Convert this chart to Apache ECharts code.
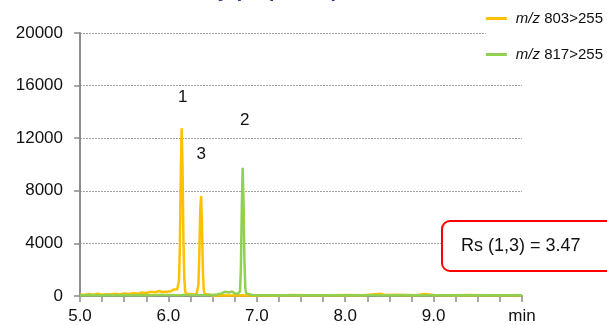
<!DOCTYPE html>
<html>
<head>
<meta charset="utf-8">
<script src="https://cdn.jsdelivr.net/npm/echarts@6/dist/echarts.min.js"></script>
<style>
  html, body { margin: 0; padding: 0; background: #fff; }
  #chart { width: 607px; height: 325px; }
</style>
</head>
<body>
<div id="chart"></div>
<script>
// Retention times (min) and intensities for the m/z 803>255 transition
const orangeTimes = [
  5.00, 5.05, 5.10, 5.15, 5.20, 5.25, 5.30, 5.35, 5.40, 5.45, 5.50, 5.55, 5.60, 5.65,
  5.70, 5.75, 5.80, 5.85, 5.90, 5.93, 5.95, 5.98, 6.00, 6.03, 6.06, 6.08, 6.10, 6.11,
  6.12, 6.13, 6.14, 6.15, 6.16, 6.17, 6.18, 6.19, 6.20, 6.22, 6.24, 6.26, 6.28, 6.30,
  6.32, 6.33, 6.34, 6.35, 6.36, 6.37, 6.38, 6.39, 6.40, 6.41, 6.43, 6.46, 6.50, 6.60,
  6.70, 6.80, 6.90, 7.00, 7.20, 7.40, 7.60, 7.80, 8.00, 8.20, 8.40, 8.45, 8.60, 8.80,
  8.90, 9.00, 9.20, 9.40, 9.60, 9.80, 10.00
];
const orangeCounts = [
  120, 80, 150, 100, 170, 90, 140, 110, 170, 120, 200, 150, 220, 180,
  260, 230, 320, 280, 380, 300, 450, 330, 420, 360, 500, 400, 520, 600,
  1200, 3800, 9200, 12750, 9800, 4300, 1300, 350, 180, 260, 150, 220, 120, 200,
  150, 300, 900, 3200, 6600, 7600, 5400, 1900, 450, 150, 60, 120, 40, 60,
  30, 50, 40, 60, 40, 70, 50, 60, 80, 60, 180, 70, 90, 60,
  160, 70, 50, 80, 60, 50, 60
];

// Retention times (min) and intensities for the m/z 817>255 transition
const greenTimes = [
  5.00, 5.10, 5.20, 5.30, 5.40, 5.50, 5.60, 5.70, 5.80, 5.90, 6.00, 6.10, 6.20, 6.30,
  6.40, 6.50, 6.55, 6.60, 6.64, 6.68, 6.72, 6.75, 6.78, 6.80, 6.81, 6.82, 6.83, 6.84,
  6.85, 6.86, 6.87, 6.88, 6.90, 6.95, 7.00, 7.20, 7.40, 7.60, 7.80, 8.00, 8.20, 8.40,
  8.60, 8.80, 9.00, 9.20, 9.40, 9.60, 9.80, 10.00
];
const greenCounts = [
  60, 80, 50, 70, 60, 80, 60, 70, 60, 80, 70, 60, 80, 70,
  60, 90, 120, 200, 320, 260, 340, 200, 150, 120, 350, 2100, 6600, 9750,
  7100, 2700, 600, 200, 120, 80, 60, 50, 60, 50, 60, 50, 60, 50,
  60, 50, 60, 50, 60, 50, 60, 50
];

// Peak numbers and their apex positions
const peakNames = ['1', '2', '3'];
const peakTimes = [6.15, 6.84, 6.37];
const peakHeights = [12750, 9750, 7600];

const seriesNames = ['m/z 803>255', 'm/z 817>255'];
const resolutionText = 'Rs (1,3) = 3.47';
const titleText = 'Selectivity (10 µL, 1 s)';

function zip(xs, ys) { return xs.map((x, i) => [x, ys[i]]); }

const FONT = 'Liberation Sans, Arial, sans-serif';
const ORANGE = '#FFC000';
const GREEN = '#92D050';

// pixel offsets of the peak-number labels above each apex
const peakLabelOffsets = [[1, -31], [2, -47], [0, -42]];

function peakMark(i) {
  return {
    name: peakNames[i],
    coord: [peakTimes[i], peakHeights[i]],
    label: { offset: peakLabelOffsets[i] }
  };
}

const markStyle = {
  symbol: 'circle',
  symbolSize: 2,
  itemStyle: { color: 'rgba(0,0,0,0)' },
  silent: true,
  label: {
    show: true,
    position: 'inside',
    formatter: '{b}',
    color: '#111',
    fontSize: 17,
    fontFamily: FONT
  }
};

const chart = echarts.init(document.getElementById('chart'), null, { renderer: 'canvas' });

chart.setOption({
  animation: false,
  backgroundColor: '#fff',
  grid: { left: 80, right: 85, top: 33, bottom: 29, containLabel: false },
  legend: {
    orient: 'vertical',
    right: 0,
    top: 3,
    padding: [8, 4, 8, 0],
    itemGap: 21,
    itemWidth: 21,
    itemHeight: 3,
    icon: 'rect',
    backgroundColor: '#fff',
    data: seriesNames,
    formatter: function (name) {
      const parts = name.split(' ');
      return '{i|' + parts[0] + '} ' + parts[1];
    },
    textStyle: {
      fontFamily: FONT,
      fontSize: 15,
      color: '#111',
      padding: [0, 0, 0, 4],
      rich: {
        i: { fontStyle: 'italic', fontFamily: FONT, fontSize: 15, color: '#111' }
      }
    }
  },
  xAxis: {
    type: 'value',
    min: 5,
    max: 10,
    interval: 0.25,
    axisLine: { show: true, lineStyle: { color: '#8c8c8c', width: 2 } },
    axisTick: { show: true, length: 6, lineStyle: { color: '#8c8c8c', width: 1.5 } },
    splitLine: { show: false },
    axisLabel: {
      margin: 12,
      color: '#111',
      fontSize: 17,
      fontFamily: FONT,
      showMinLabel: true,
      showMaxLabel: true,
      formatter: function (v) {
        if (Math.abs(v - 10) < 1e-9) return 'min';
        if (Math.abs(v - Math.round(v)) < 1e-9) return v.toFixed(1);
        return '';
      }
    }
  },
  yAxis: {
    type: 'value',
    min: 0,
    max: 20000,
    interval: 4000,
    axisLine: { show: true, lineStyle: { color: '#8c8c8c', width: 2 } },
    axisTick: { show: true, length: 6, lineStyle: { color: '#8c8c8c', width: 1.5 } },
    splitLine: { show: true, lineStyle: { color: '#a0a0a0', width: 1, type: [2, 1] } },
    axisLabel: {
      margin: 17, color: '#111', fontSize: 17, fontFamily: FONT,
      formatter: function (v) { return String(v); }
    }
  },
  series: [
    {
      name: seriesNames[0],
      type: 'line',
      data: zip(orangeTimes, orangeCounts),
      showSymbol: false,
      symbol: 'none',
      lineStyle: { color: ORANGE, width: 2.5 },
      itemStyle: { color: ORANGE },
      markPoint: Object.assign({}, markStyle, { data: [peakMark(0), peakMark(2)] })
    },
    {
      name: seriesNames[1],
      type: 'line',
      data: zip(greenTimes, greenCounts),
      showSymbol: false,
      symbol: 'none',
      lineStyle: { color: GREEN, width: 2.5 },
      itemStyle: { color: GREEN },
      markPoint: Object.assign({}, markStyle, { data: [peakMark(1)] })
    }
  ],
  graphic: [
    {
      // heading sits mostly above the canvas edge; only its lower part shows
      type: 'text',
      x: 130,
      y: -19,
      style: {
        text: titleText,
        fill: '#1F3A8A',
        font: 'bold 20px ' + FONT,
        verticalAlign: 'top'
      }
    },
    {
      type: 'rect',
      shape: { x: 442, y: 221, width: 200, height: 50, r: 8 },
      style: { fill: '#fff', stroke: '#FF0000', lineWidth: 2 },
      z: 10
    },
    {
      type: 'text',
      x: 461,
      y: 246,
      style: {
        text: resolutionText,
        fill: '#111',
        font: '18px ' + FONT,
        verticalAlign: 'middle'
      },
      z: 11
    }
  ]
});
</script>
</body>
</html>
